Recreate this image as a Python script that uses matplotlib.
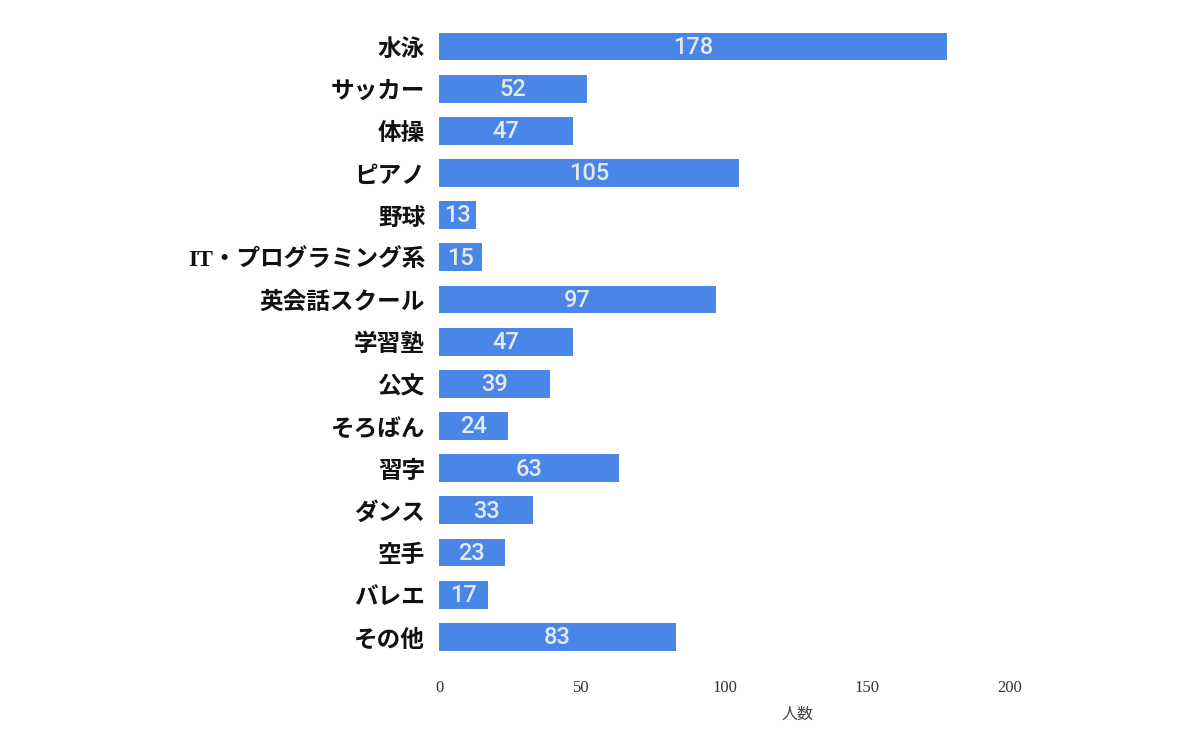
import numpy as np
import matplotlib.pyplot as plt

# 習い事の人数
categories = ["水泳", "サッカー", "体操", "ピアノ", "野球", "IT・プログラミング系",
              "英会話スクール", "学習塾", "公文", "そろばん", "習字", "ダンス",
              "空手", "バレエ", "その他"]
counts = [178, 52, 47, 105, 13, 15, 97, 47, 39, 24, 63, 33, 23, 17, 83]
xticks = [0, 50, 100, 150, 200]

plt.rcParams['font.family'] = ['Noto Sans CJK JP', 'DejaVu Sans']

fig = plt.figure(figsize=(12, 7.33), dpi=100)
ax = fig.add_axes([439/1200, 1-658/733, 571/1200, (658-25.4)/733])

y = np.arange(len(categories))
ax.barh(y, counts, height=0.66, color='#4a86e8')

for yi, v in zip(y, counts):
    ax.text(v/2, yi - 0.04, str(v), ha='center', va='center_baseline', color='#e4e9f0',
            fontsize=17, fontweight='medium', family=['Roboto', 'DejaVu Sans'])

ax.set_xlim(0, 200)
ax.set_ylim(len(categories)-0.5, -0.5)
ax.set_yticks(y)
ax.set_yticklabels(categories, fontsize=17, fontweight='bold', color='#111111')
for lab in ax.get_yticklabels():
    if lab.get_text().startswith("IT"):
        lab.set_family(['Liberation Serif', 'Noto Sans CJK JP'])
ax.set_xticks(xticks)
ax.set_xticklabels([str(t) for t in xticks], fontsize=12, color='#333333',
                   family=['Liberation Serif', 'DejaVu Serif'])
ax.tick_params(axis='y', length=0, pad=10)
ax.tick_params(axis='x', length=0, pad=16)
ax.set_xlabel('人数', fontsize=11.5, color='#444444')
ax.xaxis.set_label_coords((797-439)/571, -0.075)

for s in ax.spines.values():
    s.set_visible(False)

fig.savefig('out.png', dpi=100, facecolor='white')
